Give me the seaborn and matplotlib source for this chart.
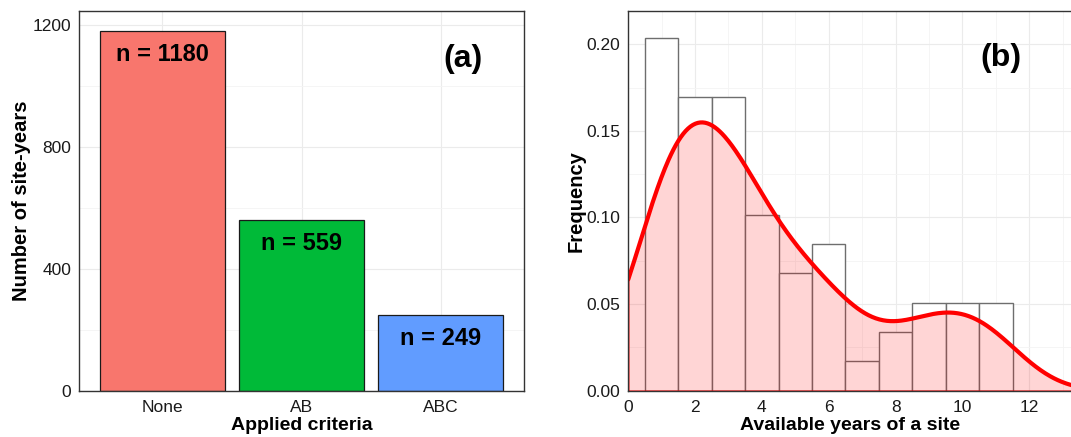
import matplotlib
matplotlib.use("Agg")
import matplotlib.pyplot as plt
from matplotlib.ticker import MultipleLocator
import seaborn as sns
import numpy as np
import pandas as pd

# Panel (a): site-years per applied criteria
criteria = ["None", "AB", "ABC"]
site_years = [1180, 559, 249]
bar_colors = ["#F8766D", "#00BA38", "#619CFF"]

# Panel (b): number of sites by available years
years = [1, 2, 3, 4, 5, 6, 7, 8, 9, 10, 11]
site_counts = [12, 10, 10, 6, 4, 5, 1, 2, 3, 3, 3]

sns.set_theme(style="white")
plt.rcParams["font.family"] = ["Liberation Sans", "DejaVu Sans"]
plt.rcParams["text.color"] = "black"
plt.rcParams["axes.labelcolor"] = "black"

GRID = "#EBEBEB"
TICK = "#1a1a1a"


def style_axes(ax):
    for side in ["left", "bottom", "top", "right"]:
        ax.spines[side].set_color("#333333")
        ax.spines[side].set_linewidth(1.0)
    ax.tick_params(axis="both", which="major", direction="out", length=4,
                   width=0.9, color="#333333", labelsize=12.5, labelcolor=TICK)
    ax.tick_params(axis="x", which="major", pad=2.5)
    ax.tick_params(axis="y", which="major", pad=1.5)
    ax.tick_params(axis="both", which="minor", length=0)
    ax.grid(True, which="major", color=GRID, linewidth=0.8)
    ax.grid(True, which="minor", color="#F4F4F4", linewidth=0.6)
    ax.set_axisbelow(True)


fig = plt.figure(figsize=(10.71, 4.37), dpi=100)

# ---- (a) bar chart
ax1 = fig.add_axes([0.0738, 0.106, 0.4155, 0.8696])
df_a = pd.DataFrame({"criteria": criteria, "n": site_years})
sns.barplot(data=df_a, x="criteria", y="n", hue="criteria", palette=bar_colors,
            saturation=1, width=0.9, edgecolor="#1a1a1a", linewidth=0.9,
            legend=False, ax=ax1)
for i, v in enumerate(site_years):
    ax1.text(i, v - 77, f"n = {v}", ha="center", va="center",
             fontsize=17, fontweight="bold", color="black")
ax1.text(2.16, 1087, "(a)", ha="center", va="center", fontsize=23,
         fontweight="bold", color="black")
ax1.set_xlim(-0.6, 2.6)
ax1.set_ylim(0, 1246)
ax1.set_yticks([0, 400, 800, 1200])
ax1.yaxis.set_minor_locator(MultipleLocator(200))
style_axes(ax1)
ax1.set_xlabel("Applied criteria", fontsize=14, fontweight="bold", labelpad=1.5)
ax1.set_ylabel("Number of site-years", fontsize=14.5, fontweight="bold", labelpad=1)

# ---- (b) histogram + density
ax2 = fig.add_axes([0.5866, 0.106, 0.4134, 0.8696])
samples = np.repeat(years, site_counts)
sns.histplot(x=samples, bins=np.arange(0.5, 12.5, 1), stat="probability",
             color="white", alpha=1, edgecolor="#6E6E6E", linewidth=1.0, ax=ax2)

# R-style nrd0 bandwidth, expressed as a factor of the sample sd
sd = samples.std(ddof=1)
q1, q3 = np.percentile(samples, [25, 75])
bw = 0.9 * min(sd, (q3 - q1) / 1.34) * len(samples) ** -0.2
factor = bw / sd

sns.kdeplot(x=samples, bw_method=factor, clip=(0, None), cut=3, gridsize=400,
            fill=True, color="red", alpha=0.165, linewidth=1.0, ax=ax2)
sns.kdeplot(x=samples, bw_method=factor, clip=(0, None), cut=3, gridsize=400,
            color="red", linewidth=3.0, ax=ax2)

ax2.text(11.15, 0.1918, "(b)", ha="center", va="center", fontsize=23,
         fontweight="bold", color="black")
ax2.set_xlim(0, 13.25)
ax2.set_ylim(0, 0.2194)
ax2.set_xticks([0, 2, 4, 6, 8, 10, 12])
ax2.set_yticks([0.0, 0.05, 0.10, 0.15, 0.20])
ax2.set_yticklabels(["0.00", "0.05", "0.10", "0.15", "0.20"])
ax2.xaxis.set_minor_locator(MultipleLocator(1))
ax2.yaxis.set_minor_locator(MultipleLocator(0.025))
style_axes(ax2)
ax2.spines["right"].set_visible(False)
ax2.set_xlabel("Available years of a site", fontsize=14, fontweight="bold", labelpad=1.5)
ax2.set_ylabel("Frequency", fontsize=14.5, fontweight="bold", labelpad=1)

fig.savefig("out.png", dpi=100)
